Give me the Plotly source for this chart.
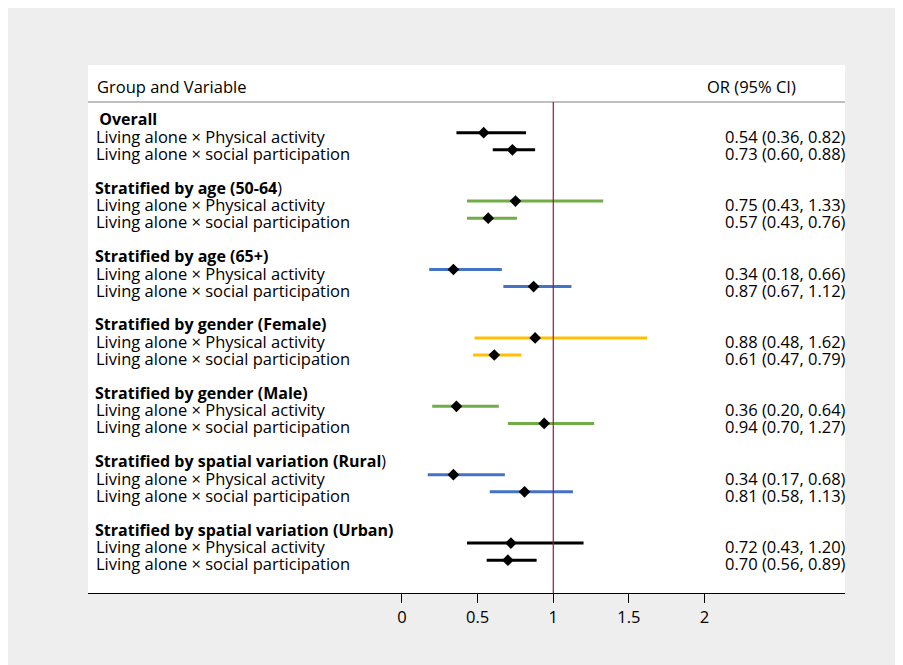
import plotly.graph_objects as go

# ---------------- data ----------------
groups = [
    " <b>Overall</b>",
    "<b>Stratified by age (50-64</b>)",
    "<b>Stratified by age (65+)</b>",
    "<b>Stratified by gender (Female)</b>",
    "<b>Stratified by gender (Male)</b>",
    "<b>Stratified by spatial variation (Rural</b>)",
    "<b>Stratified by spatial variation (Urban)</b>",
]
variables = ["Living alone × Physical activity", "Living alone × social participation"]
or_est = [[0.54, 0.73], [0.75, 0.57], [0.34, 0.87], [0.88, 0.61], [0.36, 0.94], [0.34, 0.81], [0.72, 0.70]]
ci_low = [[0.36, 0.60], [0.43, 0.43], [0.18, 0.67], [0.48, 0.47], [0.20, 0.70], [0.17, 0.58], [0.43, 0.56]]
ci_high = [[0.82, 0.88], [1.33, 0.76], [0.66, 1.12], [1.62, 0.79], [0.64, 1.27], [0.68, 1.13], [1.20, 0.89]]
group_colors = ["#000000", "#70ad47", "#4472c4", "#ffc000", "#70ad47", "#4472c4", "#000000"]
x_ticks = [0, 0.5, 1, 1.5, 2]
x_tick_labels = ["0", "0.5", "1", "1.5", "2"]

# ---------------- layout geometry (page pixel coords; page body adds 8px) ----------------
OFF = 8
W, H = 903 - OFF, 665 - OFF
L, R, T, B = 88, 845, 65, 593
FONT = "'Open Sans', sans-serif"
FS = 16.5
FS_B = 16


def px_x(px):
    return (px - L) / (R - L)


SLOT0 = 115.6
SLOT = 17.1
y_top = (T - SLOT0) / SLOT
y_bot = (B - SLOT0) / SLOT
x_left = -2.075
x_right = 2.928

fig = go.Figure()

pts_x, pts_y = [], []
for g in range(len(groups)):
    for r in range(len(variables)):
        s = 4 * g + 1 + r
        fig.add_trace(go.Scatter(
            x=[ci_low[g][r], ci_high[g][r]], y=[s, s], mode="lines",
            line=dict(color=group_colors[g], width=3), hoverinfo="skip", showlegend=False))
        pts_x.append(or_est[g][r])
        pts_y.append(s)

fig.add_trace(go.Scatter(
    x=pts_x, y=pts_y, mode="markers",
    marker=dict(symbol="diamond", size=9, color="black"), showlegend=False))

annotations = []
text_shift = -3.5
font = dict(family=FONT, size=FS, color="black")
font_b = dict(family=FONT, size=FS_B, color="black")
annotations.append(dict(x=px_x(95), xref="paper", y=(86 - SLOT0) / SLOT, yref="y",
                        text="Group and Variable", showarrow=False, xanchor="left", yanchor="middle", font=font))
annotations.append(dict(x=px_x(705), xref="paper", y=(86 - SLOT0) / SLOT, yref="y",
                        text="OR (95% CI)", showarrow=False, xanchor="left", yanchor="middle", font=font))
for g in range(len(groups)):
    annotations.append(dict(x=px_x(93), xref="paper", y=4 * g, yref="y", yshift=text_shift,
                            text=groups[g], showarrow=False, xanchor="left", yanchor="middle", font=font_b))
    for r in range(len(variables)):
        s = 4 * g + 1 + r
        annotations.append(dict(x=px_x(94), xref="paper", y=s, yref="y", yshift=text_shift,
                                text=variables[r], showarrow=False, xanchor="left", yanchor="middle", font=font))
        lab = f"{or_est[g][r]:.2f} ({ci_low[g][r]:.2f}, {ci_high[g][r]:.2f})"
        annotations.append(dict(x=px_x(848), xref="paper", y=s, yref="y", yshift=text_shift,
                                text=lab, showarrow=False, xanchor="right", yanchor="middle", font=font))

shapes = [
    dict(type="line", xref="paper", x0=0, x1=1, yref="y", y0=(102 - SLOT0) / SLOT, y1=(102 - SLOT0) / SLOT,
         line=dict(color="#bfbfbf", width=2)),
    dict(type="line", xref="x", x0=1, x1=1, yref="y", y0=(102 - SLOT0) / SLOT, y1=y_bot,
         line=dict(color="#a3123c", width=1.2), layer="above"),
]

fig.update_layout(
    width=W, height=H,
    margin=dict(l=L - OFF, r=W - (R - OFF), t=T - OFF, b=H - (B - OFF), pad=0),
    paper_bgcolor="#eeeeee", plot_bgcolor="white",
    showlegend=False,
    annotations=annotations, shapes=shapes,
    xaxis=dict(range=[x_left, x_right], tickmode="array", tickvals=x_ticks, ticktext=x_tick_labels,
               showgrid=False, zeroline=False, showline=True, linecolor="black", linewidth=1,
               ticks="outside", ticklen=9, tickcolor="black", tickwidth=1,
               tickfont=font, fixedrange=True),
    yaxis=dict(range=[y_bot, y_top], visible=False, showgrid=False, zeroline=False, fixedrange=True),
    font=font,
)

fig.write_html("out.html")
